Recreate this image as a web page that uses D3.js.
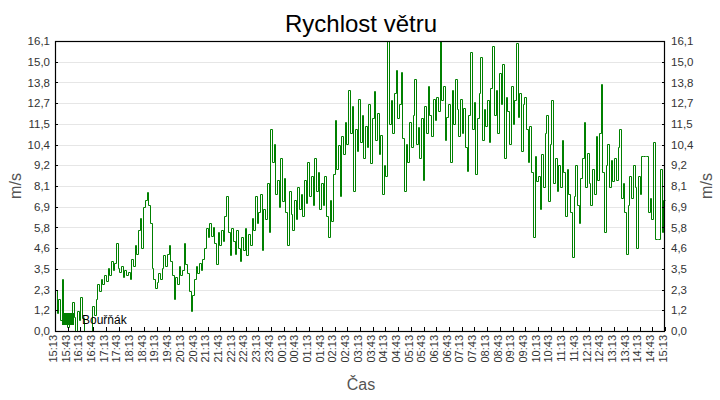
<!DOCTYPE html>
<html><head><meta charset="utf-8">
<script src="https://cdn.jsdelivr.net/npm/d3@7"></script>
<style>
body{margin:0;background:#fff}
svg{display:block}
text{font-family:"Liberation Sans",Arial,sans-serif}
</style>
</head><body><svg id="c" width="720" height="400"></svg>
<script>
const title = "Rychlost větru";
const seriesName = "Bouřňák";
const yAxisTitle = "m/s";
const xAxisTitle = "Čas";
const yTicks = [0,1.15,2.3,3.45,4.6,5.75,6.9,8.05,9.2,10.35,11.5,12.65,13.8,14.95,16.1];
const yTickLabels = ["0,0","1,2","2,3","3,5","4,6","5,8","6,9","8,1","9,2","10,4","11,5","12,7","13,8","15,0","16,1"];
const xTickLabels = ["15:13","15:43","16:13","16:43","17:13","17:43","18:13","18:43","19:13","19:43","20:13","20:43","21:13","21:43","22:13","22:43","23:13","23:43","00:13","00:43","01:13","01:43","02:13","02:43","03:13","03:43","04:13","04:43","05:13","05:43","06:13","06:43","07:13","07:43","08:13","08:43","09:13","09:43","10:13","10:43","11:13","11:43","12:13","12:43","13:13","13:43","14:13","14:43","15:13"];
const tickMinutes = 30;
const stepMinutes = 4;
// wind speed (m/s), one reading every 4 minutes from 15:13
const speeds = [
2.3,1.0,1.8,0.6,2.9,0.4,0.9,0.2,1.0,0.5,1.6,0.8,0.0,1.1,0.6,
1.9,0.7,0.0,0.0,0.0,0.0,0.0,1.4,0.9,1.8,2.6,2.2,2.9,2.6,3.1,
2.8,3.5,3.1,3.9,3.4,3.8,4.9,3.5,3.3,3.6,3.0,3.4,3.1,3.3,2.9,
4.0,3.6,4.8,4.3,5.6,6.3,4.6,6.9,7.3,7.7,7.0,6.0,3.5,2.9,2.4,
2.7,3.2,2.9,3.5,4.2,3.6,4.3,4.8,3.9,3.1,1.8,3.0,2.6,3.6,3.1,
3.4,4.9,3.7,3.2,2.2,1.1,2.0,2.9,3.6,3.2,3.8,3.4,4.0,4.6,5.7,
5.2,6.0,5.3,5.8,4.9,3.7,5.5,4.8,5.6,5.0,6.4,7.5,5.5,4.2,5.7,
5.0,4.3,5.6,4.6,3.9,5.2,4.5,5.7,4.2,5.4,4.8,6.3,5.6,7.5,6.0,
6.6,7.6,4.5,6.8,6.2,8.2,5.5,11.2,9.4,10.4,7.6,8.4,6.9,9.6,7.2,
8.5,6.6,4.8,7.8,6.5,5.6,7.3,6.2,8.0,6.8,7.6,6.4,8.4,7.1,9.4,
7.5,8.6,7.0,9.6,7.8,8.8,6.8,8.2,7.0,8.6,6.4,5.2,7.3,6.1,8.7,
11.7,9.0,10.3,7.5,10.8,9.8,11.6,10.4,13.4,11.0,12.5,7.8,11.2,10.0,12.9,
10.5,12.0,9.6,11.4,10.2,12.6,9.3,11.8,13.3,10.6,12.1,9.8,10.9,7.6,9.2,
8.6,16.1,11.5,12.8,11.0,13.2,14.5,11.8,12.6,14.4,10.7,7.8,10.4,9.4,11.6,
10.2,12.0,14.0,10.4,11.3,9.6,11.8,8.4,12.5,11.0,13.6,12.0,10.8,12.9,11.7,
13.0,12.2,16.1,12.8,13.6,10.6,11.9,12.6,9.4,13.4,11.5,14.0,12.3,10.8,12.9,
11.0,12.4,10.2,8.9,12.0,15.5,11.2,12.7,8.7,11.8,13.2,15.2,10.6,12.3,11.4,
12.8,10.5,13.5,15.8,12.0,13.4,11.0,14.3,12.6,14.8,9.6,13.0,12.2,10.4,13.6,
11.5,12.8,16.0,11.9,13.2,10.0,12.6,13.0,11.2,9.4,11.4,8.8,5.2,9.7,8.3,
8.6,6.8,9.8,8.0,11.0,12.0,7.2,10.4,12.8,8.2,9.6,7.8,9.2,8.0,10.6,
8.8,6.4,9.0,7.6,6.6,4.1,7.5,9.2,7.0,6.0,8.5,9.6,11.6,8.0,9.9,
8.2,7.0,9.0,7.6,10.8,8.4,11.0,13.7,8.8,5.5,9.2,10.4,8.0,9.5,8.3,
9.6,8.4,10.2,11.2,7.4,8.2,6.6,4.3,7.0,8.6,7.4,9.2,8.0,4.6,8.6,
7.6,9.7,9.7,9.7,9.7,6.6,7.4,6.2,10.5,5.1,5.1,5.1,9.0,5.5,7.3,7.3
];

const svg = d3.select("#c");
const L = 55, R = 665, T = 41, B = 331;
const totalMinutes = (xTickLabels.length - 1) * tickMinutes;
const x = d3.scaleLinear().domain([0, totalMinutes]).range([L, R]);
const y = d3.scaleLinear().domain([0, yTicks[yTicks.length - 1]]).range([B, T]);
const data = speeds.map((v, i) => ({m: i * stepMinutes, v}));
const px = v => Math.round(v) + 0.5;

// gridlines
svg.append("g").selectAll("line").data(yTicks.slice(1, -1)).join("line")
  .attr("x1", L).attr("x2", R)
  .attr("y1", d => px(y(d))).attr("y2", d => px(y(d)))
  .attr("stroke", "#e6e6e6").attr("stroke-width", 1);

// data line
svg.append("path").datum(data)
  .attr("fill", "none").attr("stroke", "#008000").attr("stroke-width", 1)
  .attr("d", d3.line().x(d => px(x(d.m))).y(d => px(y(d.v))).curve(d3.curveStepAfter));

// axes
const fmtY = (d) => yTickLabels[yTicks.indexOf(d)];
const gl = svg.append("g").attr("transform", `translate(${L},0)`)
  .call(d3.axisLeft(y).tickValues(yTicks).tickFormat(fmtY).tickSizeInner(-3).tickSizeOuter(0).tickPadding(5));
const gr = svg.append("g").attr("transform", `translate(${R},0)`)
  .call(d3.axisRight(y).tickValues(yTicks).tickFormat(fmtY).tickSizeInner(-3).tickSizeOuter(0).tickPadding(6));
const xTicks = xTickLabels.map((_, i) => i * tickMinutes);
const gb = svg.append("g").attr("transform", `translate(0,${B})`)
  .call(d3.axisBottom(x).tickValues(xTicks).tickFormat((d, i) => xTickLabels[i]).tickSizeInner(-4).tickSizeOuter(0));
gb.selectAll("text")
  .attr("transform", "rotate(-90)")
  .attr("text-anchor", "end")
  .attr("x", -4).attr("y", 0).attr("dy", "0.12em");
[gl, gr, gb].forEach(g => {
  g.select(".domain").remove();
  g.selectAll("text").attr("fill", "#333").attr("font-size", 11.5).attr("font-family", "'Liberation Sans',Arial,sans-serif");
  g.selectAll("line").attr("stroke", "#000").attr("shape-rendering", "crispEdges");
});
gb.selectAll("text").attr("font-size", 11);

// frame
svg.append("rect").attr("x", L + 0.5).attr("y", T + 0.5).attr("width", R - L - 1).attr("height", B - T)
  .attr("fill", "none").attr("stroke", "#000").attr("stroke-width", 1.2);

// titles
svg.append("text").attr("x", 361).attr("y", 32).attr("text-anchor", "middle")
  .attr("font-size", 24).attr("fill", "#000").text(title);
svg.append("text").attr("x", 361).attr("y", 390).attr("text-anchor", "middle")
  .attr("font-size", 16).attr("fill", "#555").text(xAxisTitle);
svg.append("text").attr("transform", `translate(21,${(T + B) / 2}) rotate(-90)`).attr("text-anchor", "middle")
  .attr("font-size", 16).attr("fill", "#555").text(yAxisTitle);
svg.append("text").attr("transform", `translate(712,${(T + B) / 2}) rotate(-90)`).attr("text-anchor", "middle")
  .attr("font-size", 16).attr("fill", "#555").text(yAxisTitle);

// legend
svg.append("rect").attr("x", 62).attr("y", 313).attr("width", 12).attr("height", 12).attr("fill", "#008000");
svg.append("text").attr("x", 82).attr("y", 324).attr("font-size", 12).attr("fill", "#000").text(seriesName);
</script>
</body></html>
